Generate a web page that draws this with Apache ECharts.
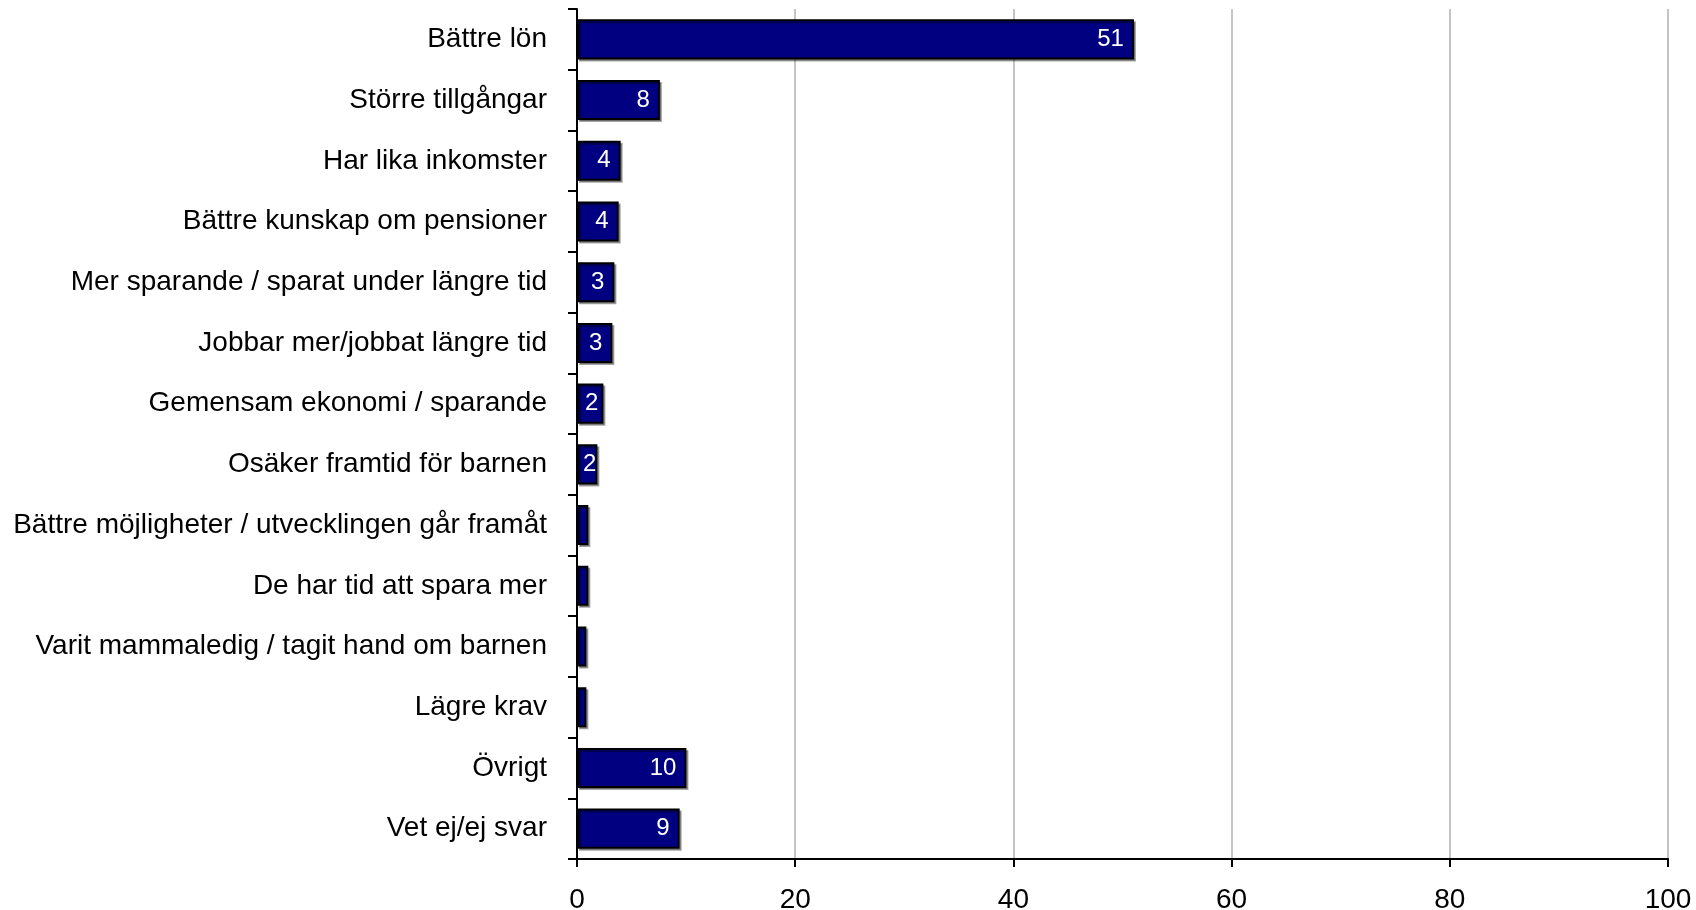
<!DOCTYPE html>
<html>
<head>
<meta charset="utf-8">
<script src="https://cdn.jsdelivr.net/npm/echarts@6/dist/echarts.min.js"></script>
<style>
html,body{margin:0;padding:0;background:#fff;}
#chart{width:1696px;height:910px;}
</style>
</head>
<body>
<div id="chart"></div>
<script>
const categories = [
  "Bättre lön",
  "Större tillgångar",
  "Har lika inkomster",
  "Bättre kunskap om pensioner",
  "Mer sparande / sparat under längre tid",
  "Jobbar mer/jobbat längre tid",
  "Gemensam ekonomi / sparande",
  "Osäker framtid för barnen",
  "Bättre möjligheter / utvecklingen går framåt",
  "De har tid att spara mer",
  "Varit mammaledig / tagit hand om barnen",
  "Lägre krav",
  "Övrigt",
  "Vet ej/ej svar"
];
const values = [51.05, 7.6, 4.0, 3.82, 3.43, 3.24, 2.42, 1.87, 1.04, 1.04, 0.86, 0.86, 10.03, 9.41];
const xTicks = [0, 20, 40, 60, 80, 100];

const FONT = "'Liberation Sans', Arial, sans-serif";

const seriesData = values.map(v => ({
  value: v,
  label: {
    show: v >= 1.5,
    distance: v < 2 ? 1 : (v < 3 ? 5 : 10)
  }
}));

const chart = echarts.init(document.getElementById('chart'), null, {renderer: 'canvas'});
chart.setOption({
  animation: false,
  backgroundColor: '#ffffff',
  grid: {left: 577, right: 28, top: 9, bottom: 51, containLabel: false, outerBoundsMode: 'none'},
  xAxis: {
    type: 'value',
    min: xTicks[0],
    max: xTicks[xTicks.length - 1],
    interval: 20,
    axisLine: {show: true, lineStyle: {color: '#000', width: 2}},
    axisTick: {show: true, length: 8, inside: false, lineStyle: {color: '#000', width: 2}},
    axisLabel: {color: '#000', fontSize: 28, fontFamily: FONT, margin: 27},
    splitLine: {show: true, lineStyle: {color: '#c4c4c4', width: 2}}
  },
  yAxis: {
    type: 'category',
    data: categories,
    inverse: true,
    axisLine: {show: true, onZero: false, lineStyle: {color: '#000', width: 2}},
    axisTick: {show: true, length: 9, inside: false, alignWithLabel: false, lineStyle: {color: '#000', width: 2}},
    axisLabel: {color: '#000', fontSize: 28, fontFamily: FONT, margin: 30},
    splitLine: {show: false}
  },
  series: [{
    type: 'bar',
    data: seriesData,
    barCategoryGap: '34%',
    itemStyle: {
      color: '#000080',
      borderColor: '#000',
      borderWidth: 2,
      shadowColor: 'rgba(0,0,0,0.35)',
      shadowOffsetX: 2,
      shadowOffsetY: 2,
      shadowBlur: 0
    },
    label: {
      show: true,
      position: 'insideRight',
      color: '#fff',
      fontSize: 24,
      fontFamily: FONT,
      formatter: p => Math.round(p.value)
    }
  }]
});
</script>
</body>
</html>
